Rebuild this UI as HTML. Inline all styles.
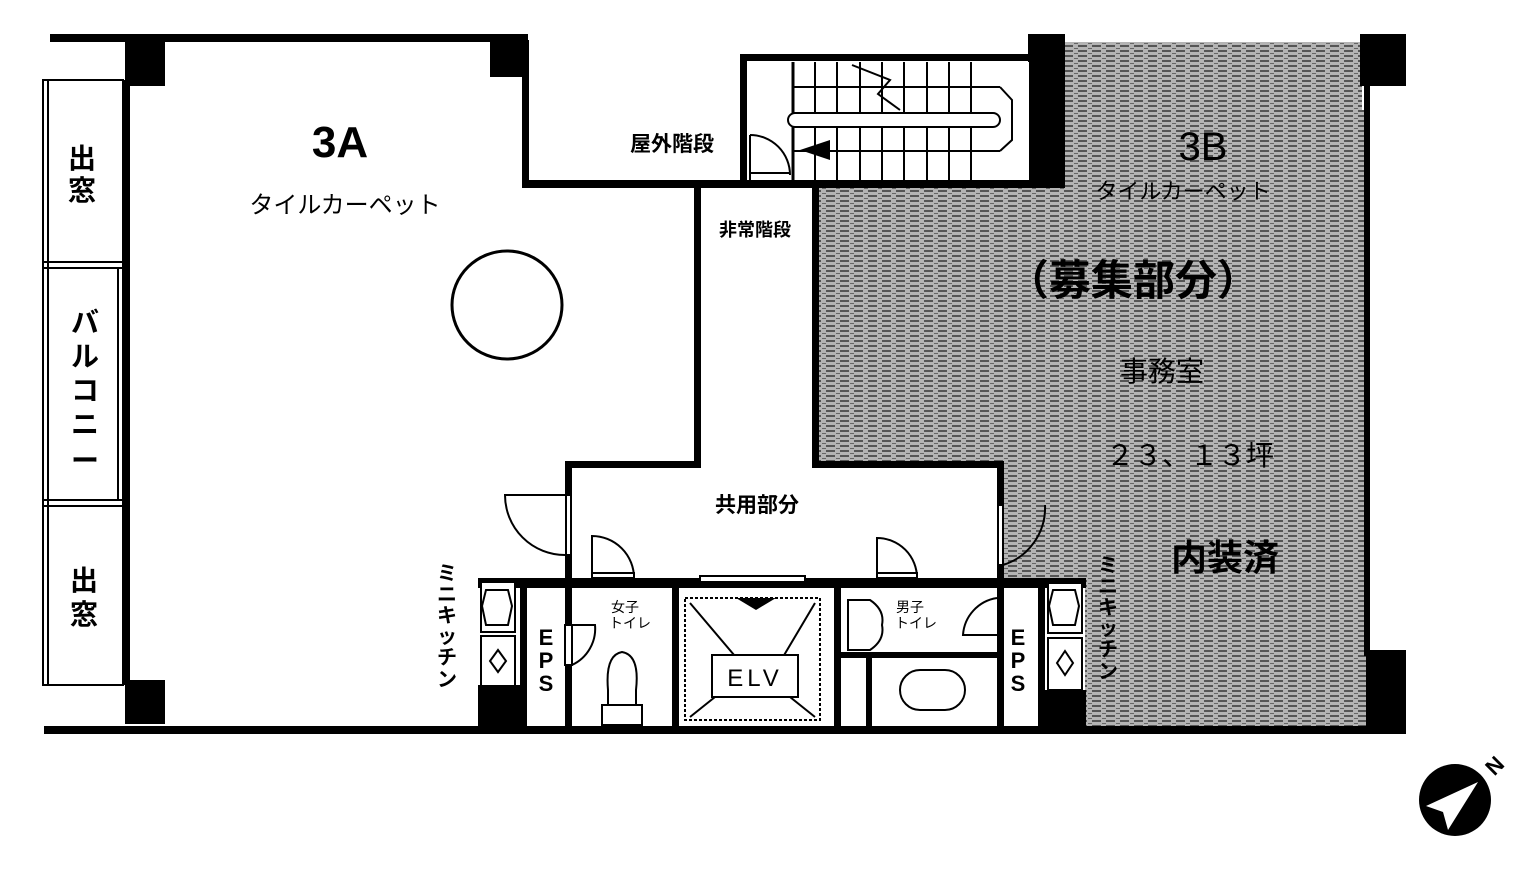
<!DOCTYPE html>
<html><head><meta charset="utf-8"><style>
html,body{margin:0;padding:0;background:#fff;}
svg{display:block}
text{font-family:"Liberation Sans","Noto Sans CJK JP",sans-serif;fill:#000}
.j{font-family:"Noto Sans CJK JP",sans-serif}
</style></head><body>
<svg width="1535" height="880" viewBox="0 0 1535 880" xmlns="http://www.w3.org/2000/svg">
<defs>
<pattern id="h" width="14" height="5" patternUnits="userSpaceOnUse">
<rect width="14" height="5" fill="#b4b4b4"/>
<rect x="0" y="0" width="9" height="2" fill="#555"/>
<rect x="10" y="3" width="4" height="1" fill="#666"/>
</pattern>
</defs>
<!-- gray 3B area -->
<path d="M1035 42 H1362 V110 H1368 V650 H1366 V726 H1085 V588 H1003 V468 H818 V188 H1035 Z" fill="url(#h)"/>
<!-- walls -->
<g fill="#000">
<rect x="50" y="34" width="478" height="8"/>
<rect x="125" y="34" width="40" height="52"/>
<rect x="490" y="34" width="37" height="43"/>
<rect x="123" y="80" width="7" height="605"/>
<rect x="125" y="680" width="40" height="44"/>
<rect x="44" y="726" width="1362" height="8"/>
<rect x="522" y="40" width="7" height="148"/>
<rect x="522" y="180" width="513" height="8"/>
<rect x="740" y="54" width="7" height="134"/>
<rect x="740" y="54" width="295" height="7"/>
<rect x="1028" y="34" width="37" height="154"/>
<rect x="1360" y="34" width="46" height="52"/>
<rect x="1364" y="86" width="6" height="570"/>
<rect x="1366" y="650" width="40" height="84"/>
<rect x="694" y="188" width="7" height="280"/>
<rect x="812" y="188" width="7" height="280"/>
<rect x="565" y="461" width="136" height="7"/>
<rect x="812" y="461" width="192" height="7"/>
<rect x="565" y="461" width="7" height="128"/>
<rect x="997" y="461" width="7" height="128"/>
<rect x="478" y="578" width="608" height="10"/>
<rect x="478" y="685" width="48" height="42"/>
<rect x="1040" y="690" width="46" height="37"/>
<rect x="520" y="578" width="7" height="150"/>
<rect x="565" y="578" width="7" height="150"/>
<rect x="672" y="578" width="7" height="150"/>
<rect x="834" y="578" width="7" height="150"/>
<rect x="997" y="578" width="7" height="150"/>
<rect x="1038" y="578" width="7" height="150"/>
<rect x="840" y="652" width="160" height="6"/>
<rect x="866" y="652" width="6" height="75"/>
</g>
<!-- balcony strip -->
<g fill="none" stroke="#000" stroke-width="2">
<rect x="43" y="80" width="80" height="605"/>
<line x1="48" y1="80" x2="48" y2="685"/>
<line x1="43" y1="262" x2="123" y2="262"/><line x1="43" y1="268" x2="123" y2="268"/>
<line x1="43" y1="500" x2="123" y2="500"/><line x1="43" y1="506" x2="123" y2="506"/>
<line x1="118" y1="268" x2="118" y2="500"/>
</g>
<!-- stairs -->
<g stroke="#000" stroke-width="2" fill="none">
<rect x="793" y="62" width="236" height="118" fill="#fff" stroke="none"/>
<line x1="793" y1="62" x2="793" y2="180" stroke-width="3"/>
<line x1="815" y1="62" x2="815" y2="180"/><line x1="837" y1="62" x2="837" y2="180"/>
<line x1="860" y1="62" x2="860" y2="180"/><line x1="882" y1="62" x2="882" y2="180"/>
<line x1="904" y1="62" x2="904" y2="180"/><line x1="927" y1="62" x2="927" y2="180"/>
<line x1="949" y1="62" x2="949" y2="180"/><line x1="971" y1="62" x2="971" y2="180"/>
<line x1="793" y1="87" x2="1000" y2="87"/><line x1="793" y1="151" x2="1000" y2="151"/>
<rect x="788" y="113" width="212" height="14" rx="7" fill="#fff"/>
<polyline points="1000,87 1012,100 1012,140 1000,151"/>
<polyline points="852,65 890,80 878,94 900,110"/>
<line x1="750" y1="180" x2="750" y2="135"/><path d="M750 135 A40 40 0 0 1 790 175"/>
<line x1="750" y1="173" x2="790" y2="173"/>
</g>
<polygon points="800,150 830,140 830,160" fill="#000"/>
<!-- doors -->
<g stroke="#000" stroke-width="2" fill="none">
<path d="M565 495 H505 A60 60 0 0 0 565 555"/>
<rect x="566" y="495" width="5" height="60" fill="#fff"/>
<path d="M592 578 V536 A42 42 0 0 1 634 578"/>
<rect x="592" y="573" width="42" height="5" fill="#fff"/>
<path d="M877 578 V538 A40 40 0 0 1 917 578"/>
<rect x="877" y="573" width="40" height="5" fill="#fff"/>
<path d="M1003 505 V565 A60 60 0 0 0 1045 505"/>
<rect x="998" y="505" width="5" height="60" fill="#fff"/>
<rect x="700" y="576" width="105" height="6" fill="#fff"/>
<path d="M572 625 H595 A40 40 0 0 1 572 665"/>
<rect x="565" y="625" width="7" height="40" fill="#fff"/>
<path d="M997 598 A40 40 0 0 0 963 635 H997"/>
<!-- toilets -->
<path d="M608 722 V690 Q605 655 622 652 Q640 655 636 690 V722 Z"/>
<rect x="602" y="705" width="40" height="20" fill="#fff"/>
<path d="M848 600 H870 Q885 610 882 625 Q885 640 870 650 H848 Z"/>
<rect x="900" y="670" width="65" height="40" rx="20"/>
<!-- ELV -->
<rect x="685" y="598" width="135" height="122" stroke-dasharray="3 2"/>
<polyline points="690,603 740,662 780,662 815,603"/>
<polyline points="690,717 715,697 790,697 815,717"/>
<rect x="712" y="655" width="86" height="42" fill="#fff"/>
<!-- kitchen units -->
<rect x="481" y="582" width="34" height="50" fill="#fff"/>
<path d="M486 590 L508 590 L512 606 L508 625 L486 625 L482 606 Z"/>
<rect x="481" y="636" width="34" height="50" fill="#fff"/>
<path d="M498 650 L506 661 L498 672 L490 661 Z"/>
<rect x="1048" y="583" width="34" height="50" fill="#fff"/>
<path d="M1053 590 L1075 590 L1079 606 L1075 625 L1053 625 L1049 606 Z"/>
<rect x="1048" y="638" width="34" height="52" fill="#fff"/>
<path d="M1065 651 L1073 663 L1065 675 L1057 663 Z"/>
<!-- scribble circle -->
<ellipse cx="507" cy="305" rx="55" ry="54" stroke-width="3"/>
</g>
<polygon points="736,598 776,598 756,610" fill="#000"/>
<!-- texts -->
<text x="340" y="157" font-size="44" font-weight="bold" text-anchor="middle">3A</text>
<text class="j" x="345" y="213" font-size="24" text-anchor="middle">タイルカーペット</text>
<text class="j" x="672" y="151" font-size="21" font-weight="bold" text-anchor="middle">屋外階段</text>
<text class="j" x="755" y="236" font-size="18" font-weight="bold" text-anchor="middle">非常階段</text>
<text x="1203" y="160" font-size="40" text-anchor="middle">3B</text>
<text class="j" x="1183" y="199" font-size="22" text-anchor="middle">タイルカーペット</text>
<text class="j" x="1133" y="295" font-size="42" font-weight="bold" text-anchor="middle">（募集部分）</text>
<text class="j" x="1162" y="381" font-size="28" text-anchor="middle">事務室</text>
<text class="j" x="1190" y="465" font-size="28" text-anchor="middle">２３、１３坪</text>
<text class="j" x="1225" y="570" font-size="36" font-weight="bold" text-anchor="middle">内装済</text>
<text class="j" x="757" y="512" font-size="21" font-weight="bold" text-anchor="middle">共用部分</text>
<text class="j" x="625" y="612" font-size="14" text-anchor="middle">女子</text>
<text class="j" x="630" y="628" font-size="14" text-anchor="middle">トイレ</text>
<text class="j" x="910" y="612" font-size="14" text-anchor="middle">男子</text>
<text class="j" x="916" y="628" font-size="14" text-anchor="middle">トイレ</text>
<text x="755" y="686" font-size="24" text-anchor="middle" letter-spacing="4">ELV</text>
<g class="j" font-size="28" font-weight="bold" text-anchor="middle">
<text x="82" y="168">出</text><text x="82" y="200">窓</text>
<text x="85" y="332">バ</text><text x="85" y="366">ル</text><text x="85" y="400">コ</text><text x="85" y="434">ニ</text><text x="85" y="470">ー</text>
<text x="84" y="590">出</text><text x="84" y="624">窓</text>
</g>
<g class="j" font-size="20" font-weight="bold" text-anchor="middle">
<text x="447" y="580">ミ</text><text x="447" y="601">ニ</text><text x="447" y="622">キ</text><text x="447" y="643">ッ</text><text x="447" y="664">チ</text><text x="447" y="686">ン</text>
<text x="1108" y="572">ミ</text><text x="1108" y="593">ニ</text><text x="1108" y="614">キ</text><text x="1108" y="635">ッ</text><text x="1108" y="656">チ</text><text x="1108" y="678">ン</text>
</g>
<g font-size="22" font-weight="bold" text-anchor="middle">
<text x="546" y="645">E</text><text x="546" y="668">P</text><text x="546" y="691">S</text>
<text x="1018" y="645">E</text><text x="1018" y="668">P</text><text x="1018" y="691">S</text>
</g>
<!-- north arrow -->
<circle cx="1455" cy="800" r="36" fill="#000"/>
<polygon points="1478,782 1426,806 1443,812 1448,830" fill="#fff"/>
<text x="1495" y="773" font-size="22" font-weight="bold" text-anchor="middle" transform="rotate(-45 1495 766)">N</text>
</svg>
</body></html>
